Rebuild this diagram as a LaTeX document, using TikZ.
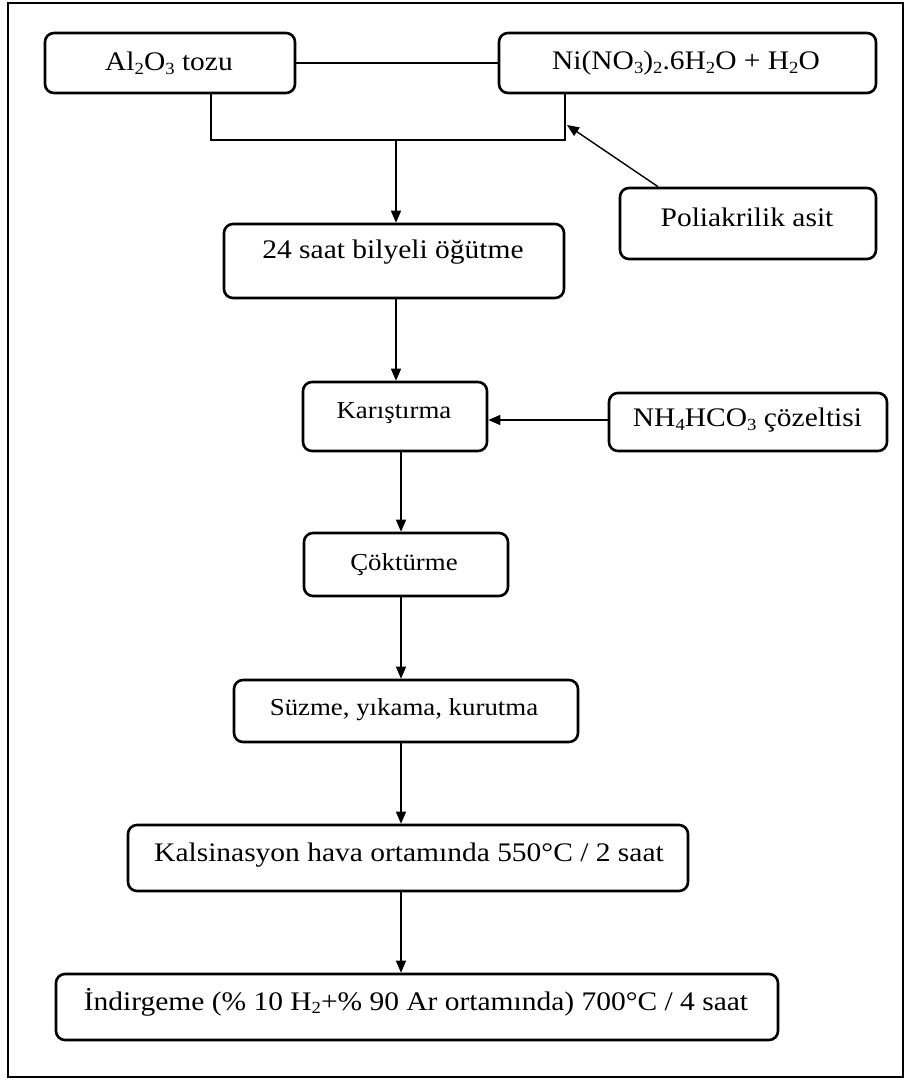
\documentclass[tikz,border=0pt]{standalone}
\usepackage{fontspec}
\setmainfont{Liberation Serif}[FakeStretch=1.1]
\usetikzlibrary{arrows.meta,calc}
\tikzset{
  box/.style={draw, line width=2.6pt, rounded corners=9pt, inner sep=0pt},
  txt/.style={inner sep=0pt, font=\fontsize{26.8}{32}\selectfont},
  stxt/.style={inner sep=0pt, font=\fontsize{24.4}{29}\selectfont},
  conn/.style={line width=1.4pt},
  arr/.style={line width=1.4pt, -{Triangle[length=12pt,width=10pt]}},
  frame/.style={line width=1.6pt}
}
\newcommand\chemsub[1]{\raisebox{-0.3ex}{\fontsize{17}{20}\selectfont #1}}
\begin{document}
\begin{tikzpicture}[x=1pt,y=-1pt]
\useasboundingbox (0,0) rectangle (907,1081);
\draw[frame] (8,3) rectangle (903,1077);
% boxes
\node[box, minimum width=250pt, minimum height=60pt] (al) at (170,63) {};
\node[box, minimum width=377pt, minimum height=60pt] (ni) at (687.5,63) {};
\node[box, minimum width=256pt, minimum height=71pt] (poli) at (748,223.5) {};
\node[box, minimum width=340pt, minimum height=74pt] (b24) at (394,261) {};
\node[box, minimum width=184pt, minimum height=69pt] (kar) at (395,416.5) {};
\node[box, minimum width=278pt, minimum height=58pt] (nh) at (748,422) {};
\node[box, minimum width=204pt, minimum height=63pt] (cok) at (406,564.5) {};
\node[box, minimum width=344pt, minimum height=62pt] (suz) at (406,711) {};
\node[box, minimum width=560pt, minimum height=66pt] (kal) at (408,858) {};
\node[box, minimum width=722pt, minimum height=66pt] (ind) at (417,1007) {};
% texts
\node[txt] (tal) at (169,63) {Al\chemsub{2}O\chemsub{3} tozu};
\node[txt] (tni) at (686,63) {Ni(NO\chemsub{3})\chemsub{2}.6H\chemsub{2}O + H\chemsub{2}O};
\node[txt] (tpoli) at (747,217) {Poliakrilik asit};
\node[txt] (tb24) at (393,252) {24 saat bilyeli öğütme};
\node[stxt] (tkar) at (394,413) {Karıştırma};
\node[txt] (tnh) at (747.5,420) {NH\chemsub{4}HCO\chemsub{3} çözeltisi};
\node[stxt] (tcok) at (404,565) {Çöktürme};
\node[stxt] (tsuz) at (404,710) {Süzme, yıkama, kurutma};
\node[txt] (tkal) at (409,855) {Kalsinasyon hava ortamında 550°C / 2 saat};
\node[txt] (tind) at (416,1002) {İndirgeme (\% 10 H\chemsub{2}+\% 90 Ar ortamında) 700°C / 4 saat};
% connector coordinates
\coordinate (la) at (211,0);
\coordinate (ln) at (565,0);
\coordinate (jy) at (0,140);
\coordinate (s1) at (396,0);
\coordinate (s2) at (401,0);
\coordinate (pt) at (567,125);
% connectors
\draw[conn] (al.east) -- (ni.west);
\draw[conn] (la |- al.south) -- (la |- jy) -- (ln |- jy) -- (ln |- ni.south);
\draw[arr] (s1 |- jy) -- (s1 |- b24.north);
\draw[arr] ($(poli.north west)!0.152!(poli.north east)$) -- (pt);
\draw[arr] (s1 |- b24.south) -- (s1 |- kar.north);
\draw[arr] (nh.west |- 0,420) -- (kar.east |- 0,420);
\draw[arr] (s2 |- kar.south) -- (s2 |- cok.north);
\draw[arr] (s2 |- cok.south) -- (s2 |- suz.north);
\draw[arr] (s2 |- suz.south) -- (s2 |- kal.north);
\draw[arr] (s2 |- kal.south) -- (s2 |- ind.north);
\end{tikzpicture}
\end{document}
